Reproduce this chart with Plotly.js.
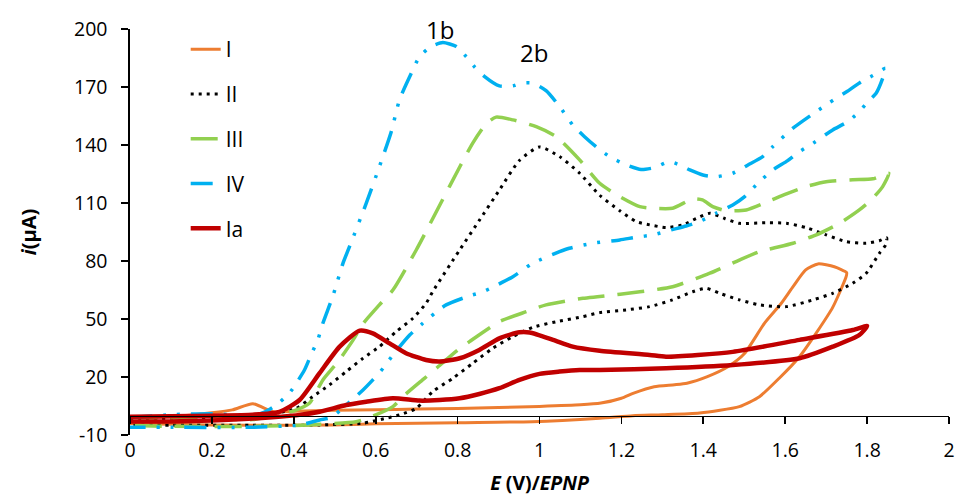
<!DOCTYPE html>
<html>
<head>
<meta charset="utf-8">
<script src="https://cdn.plot.ly/plotly-3.0.1.min.js"></script>
<style>html,body{margin:0;padding:0;background:#fff;}#chart{width:959px;height:496px;}</style>
</head>
<body>
<div id="chart"></div>
<script>
// Series names
const seriesNames = ["I", "II", "III", "IV", "Ia"];

// Curve I (orange): forward scan then reverse scan
const I_E = [0, 0.1, 0.2, 0.25, 0.3, 0.35, 0.4, 0.5, 0.6, 0.7, 0.8, 0.9, 1.0, 1.1, 1.15, 1.2, 1.23, 1.28, 1.33, 1.36, 1.41, 1.46, 1.5, 1.55, 1.59, 1.62, 1.65, 1.68, 1.72, 1.75,
             1.749, 1.716, 1.676, 1.635, 1.586, 1.537, 1.488, 1.391, 1.3, 1.228, 1.147, 0.983, 0.8, 0.6, 0.495, 0.3, 0.1, 0];
const I_i = [-1, -0.5, 1.5, 3, 6.2, 2, 2.3, 2.8, 3.1, 3.4, 3.7, 4.2, 4.8, 5.6, 6.5, 9, 11.7, 15, 16, 16.8, 20.2, 25.3, 32, 48, 58, 67, 75.4, 78.5, 77, 74,
             72, 56, 42.8, 30.5, 19.5, 9.8, 4.7, 1.4, 0.5, 0, -1.3, -3.1, -3.6, -4.2, -4.8, -5, -4.5, -4];

// Curve II (black dotted)
const II_E = [0, 0.2, 0.3, 0.35, 0.406, 0.446, 0.487, 0.528, 0.569, 0.609, 0.65, 0.691, 0.723, 0.739, 0.805, 0.853, 0.902, 0.951, 1.0, 1.049, 1.098, 1.147, 1.196, 1.236, 1.269, 1.309, 1.35, 1.383, 1.416, 1.452, 1.488, 1.554, 1.603, 1.651, 1.7, 1.749, 1.798, 1.83, 1.848,
              1.845, 1.83, 1.798, 1.765, 1.716, 1.668, 1.603, 1.537, 1.488, 1.44, 1.407, 1.374, 1.325, 1.269, 1.212, 1.147, 1.106, 1.041, 0.984, 0.935, 0.886, 0.837, 0.788, 0.739, 0.699, 0.658, 0.626, 0.569, 0.463, 0.3, 0.1, 0];
const II_i = [-2, -1.5, -0.5, 1, 3.8, 9.8, 15.9, 22.8, 29.7, 35.7, 43.5, 50.4, 58.1, 64.1, 85.7, 101, 116.7, 132, 139, 134, 125.4, 114, 106, 100.4, 98.7, 97.3, 98.7, 102, 104.7, 102, 99.5, 99.8, 99.5, 97.3, 93.5, 90, 89.2, 90.5, 92,
              88.3, 84, 73.7, 68.5, 63.3, 59.9, 56.4, 57.3, 59.9, 63.3, 65.9, 64.1, 59.9, 56.4, 54.7, 53.3, 51.2, 48.6, 45.7, 40.9, 34.9, 27.1, 19.3, 12.4, 3.8, 0.4, -1.3, -3.9, -4.8, -5, -5, -5];

// Curve III (green dashed)
const III_E = [0, 0.2, 0.3, 0.35, 0.4, 0.438, 0.471, 0.508, 0.545, 0.57, 0.609, 0.642, 0.699, 0.78, 0.837, 0.87, 0.894, 0.935, 0.992, 1.041, 1.098, 1.147, 1.196, 1.245, 1.276, 1.325, 1.374, 1.398, 1.423, 1.456, 1.505, 1.554, 1.603, 1.651, 1.7, 1.765, 1.814, 1.853,
               1.838, 1.81, 1.781, 1.733, 1.676, 1.619, 1.57, 1.537, 1.488, 1.416, 1.325, 1.245, 1.147, 1.106, 1.016, 0.968, 0.902, 0.829, 0.801, 0.748, 0.719, 0.666, 0.642, 0.581, 0.552, 0.438, 0.3, 0.1, 0];
const III_i = [-1, -1.5, -2, 0, 2.5, 6.4, 18.5, 27.9, 39.2, 47.8, 57.3, 65, 85.7, 118.5, 141, 151, 154.4, 153, 149.5, 144.3, 132.3, 120.2, 113.3, 108.1, 107.3, 107.3, 112.1, 111.6, 108.1, 106, 106.4, 110.4, 114.7, 118.5, 121, 122, 122.5, 125.4,
               118.5, 111.6, 106.4, 99.5, 93.5, 89.2, 86.6, 84.8, 80.5, 73.7, 66.7, 64.1, 61.6, 60.7, 57.3, 53.8, 48.6, 38.3, 34, 24.5, 19.3, 9.8, 4.7, -1.3, -3.1, -4.8, -5.5, -5.5, -5];

// Curve IV (blue dash-dot-dot)
const IV_E = [0, 0.1, 0.2, 0.3, 0.33, 0.357, 0.389, 0.426, 0.442, 0.459, 0.471, 0.495, 0.52, 0.536, 0.577, 0.609, 0.638, 0.658, 0.687, 0.707, 0.735, 0.764, 0.797, 0.821, 0.841, 0.866, 0.902, 0.935, 0.955, 0.983, 1.016, 1.049, 1.081, 1.11, 1.138, 1.171, 1.212, 1.248, 1.281, 1.317, 1.342, 1.367, 1.399, 1.431, 1.472, 1.509, 1.545, 1.57, 1.619, 1.676, 1.708, 1.757, 1.786, 1.814, 1.845,
              1.838, 1.822, 1.802, 1.777, 1.749, 1.716, 1.668, 1.635, 1.606, 1.57, 1.537, 1.501, 1.472, 1.431, 1.391, 1.358, 1.322, 1.277, 1.236, 1.196, 1.13, 1.073, 1.049, 0.983, 0.935, 0.862, 0.829, 0.772, 0.744, 0.715, 0.683, 0.642, 0.618, 0.593, 0.569, 0.528, 0.491, 0.463, 0.414, 0.3, 0.1, 0];
const IV_i = [-1, 0.5, 1, 0, 2, 5.5, 11.6, 23.6, 31.4, 39.5, 47.8, 61.6, 78.8, 87.4, 109.9, 128.8, 146.9, 163.3, 177.1, 185.7, 190.9, 193, 190.9, 185.7, 180.5, 175.4, 170.6, 170.6, 172, 172, 168.1, 159.9, 150.4, 144.3, 139.2, 134, 129.7, 127.3, 128.3, 131.4, 129.7, 127.1, 124.5, 123.6, 125.4, 129.7, 134, 139.2, 148.7, 157.3, 161.9, 168.5, 172.8, 175.9, 179.7,
              174.5, 166.8, 162.4, 156.4, 151.6, 147.8, 140.9, 136.6, 131.9, 127.1, 121, 113.3, 109, 104.7, 100.4, 98.1, 96.1, 93.5, 92.3, 90.9, 89.2, 86.6, 84.8, 78.8, 71.9, 64.1, 62, 57.3, 53, 47.8, 41.7, 31.4, 24.5, 18.5, 13.3, 5.5, -1, -2.2, -4.8, -6, -6, -6];

// Curve Ia (dark red)
const Ia_E = [0, 0.1, 0.2, 0.3, 0.365, 0.414, 0.463, 0.512, 0.561, 0.593, 0.634, 0.674, 0.723, 0.756, 0.805, 0.853, 0.902, 0.951, 0.976, 1.033, 1.081, 1.147, 1.269, 1.309, 1.472, 1.635, 1.765, 1.8,
              1.781, 1.716, 1.635, 1.472, 1.309, 1.147, 1.098, 1.049, 1.0, 0.951, 0.902, 0.853, 0.805, 0.756, 0.707, 0.642, 0.577, 0.528, 0.463, 0.414, 0.3, 0.2, 0.1, 0];
const Ia_i = [-0.5, -0.3, 0, 0.5, 2, 8.1, 22, 35.7, 44, 42.6, 37.4, 32.3, 28.8, 28, 29.7, 34, 40, 43.1, 43, 39.2, 35.7, 33.6, 31.4, 30.5, 33, 39.2, 44.3, 46.4,
              41.7, 35.7, 29.7, 26.2, 24.5, 23.6, 23.6, 22.8, 21.6, 18.5, 14.2, 11.2, 9, 8.1, 7.8, 9, 7.2, 5.5, 2, 0.4, -1.5, -2.5, -3, -3];

// Axis ticks
const xTickVals = [0, 0.2, 0.4, 0.6, 0.8, 1, 1.2, 1.4, 1.6, 1.8, 2];
const xTickText = ["0", "0.2", "0.4", "0.6", "0.8", "1", "1.2", "1.4", "1.6", "1.8", "2"];
const yTickVals = [-10, 20, 50, 80, 110, 140, 170, 200];
const yTickText = ["-10", "20", "50", "80", "110", "140", "170", "200"];

// Peak labels
const peakLabels = ["1b", "2b"];
const peakLabelE = [0.756, 0.986];
const peakLabelI = [200, 188];

const FONT = "'Open Sans', 'Noto Sans', sans-serif";

const traces = [
  {x: I_E, y: I_i, name: seriesNames[0], legendgroup: "g1", line: {color: "#ED7D31", width: 3}},
  {x: II_E, y: II_i, name: seriesNames[1], legendgroup: "g2", line: {color: "#000000", width: 3, dash: "3px,5px"}},
  {x: III_E, y: III_i, name: seriesNames[2], legendgroup: "g3", line: {color: "#92D050", width: 3.5, dash: "27px,13px"}},
  {x: IV_E, y: IV_i, name: seriesNames[3], legendgroup: "g4", line: {color: "#00B0F0", width: 3.5, dash: "22px,11px,3px,11px,3px,11px"}},
  {x: Ia_E, y: Ia_i, name: seriesNames[4], legendgroup: "g5", line: {color: "#C00000", width: 4.5}}
].map(t => Object.assign({type: "scatter", mode: "lines"}, t, {line: Object.assign({shape: "spline", smoothing: 0.6}, t.line)}));

const layout = {
  width: 959, height: 496,
  margin: {l: 130, r: 10, t: 29, b: 61, pad: 0},
  paper_bgcolor: "#ffffff", plot_bgcolor: "#ffffff",
  font: {family: FONT, size: 19.5, color: "#000000"},
  showlegend: true,
  legend: {
    x: 0.068, xanchor: "left", y: 1.0, yanchor: "top",
    traceorder: "grouped", tracegroupgap: 14.5,
    font: {family: FONT, size: 21, color: "#000000"},
    bgcolor: "rgba(0,0,0,0)", borderwidth: 0
  },
  xaxis: {
    range: [0, 2], anchor: "free", position: 10/210,
    tickmode: "array", tickvals: xTickVals, ticktext: xTickText,
    showline: true, linecolor: "#000000", linewidth: 1.6,
    ticks: "outside", ticklen: 7, tickwidth: 1.6, tickcolor: "#000000",
    ticklabelstandoff: 9,
    showgrid: false, zeroline: false,
    tickfont: {family: FONT, size: 19.5, color: "#000000"},
    title: {text: "<b><i>E</i> (V)/<i>EPNP</i></b>", font: {family: FONT, size: 19.5, color: "#000000"}, standoff: 15}
  },
  yaxis: {
    range: [-10, 200],
    tickmode: "array", tickvals: yTickVals, ticktext: yTickText,
    showline: true, linecolor: "#000000", linewidth: 1.6,
    ticks: "outside", ticklen: 7, tickwidth: 1.6, tickcolor: "#000000",
    ticklabelstandoff: 10,
    showgrid: false, zeroline: false,
    tickfont: {family: FONT, size: 19.5, color: "#000000"},
    title: {text: "<b><i>i</i>(μA)</b>", font: {family: FONT, size: 20, color: "#000000"}, standoff: 32}
  },
  annotations: peakLabels.map((t, k) => ({
    text: t, x: peakLabelE[k], y: peakLabelI[k], xref: "x", yref: "y",
    showarrow: false, font: {family: FONT, size: 24, color: "#000000"}
  }))
};

Plotly.newPlot("chart", traces, layout, {displayModeBar: false, staticPlot: true});
</script>
</body>
</html>
